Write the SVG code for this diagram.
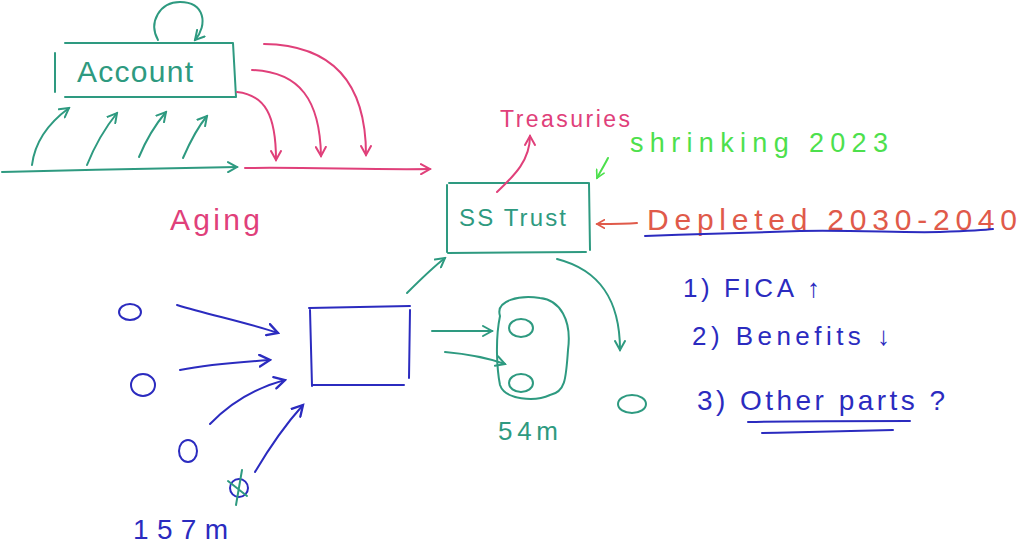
<svg xmlns="http://www.w3.org/2000/svg" width="1019" height="548" viewBox="0 0 1019 548">
<defs>
<style>
.t{font-family:"Liberation Sans",Arial,sans-serif;}
.ln{fill:none;stroke-width:2;stroke-linecap:round;stroke-linejoin:round;}
.teal{stroke:#2e9a80;} .pink{stroke:#e0407a;} .blue{stroke:#2b2bbf;} .green{stroke:#4de04d;} .red{stroke:#e05a4a;}
</style>
<marker id="aT" viewBox="0 0 12 12" refX="10" refY="6" markerWidth="12" markerHeight="12" markerUnits="userSpaceOnUse" orient="auto"><path d="M1,1 L10,6 L1,11" fill="none" stroke="#2e9a80" stroke-width="2" stroke-linecap="round"/></marker>
<marker id="aP" viewBox="0 0 12 12" refX="10" refY="6" markerWidth="12" markerHeight="12" markerUnits="userSpaceOnUse" orient="auto"><path d="M1,1 L10,6 L1,11" fill="none" stroke="#e0407a" stroke-width="2" stroke-linecap="round"/></marker>
<marker id="aB" viewBox="0 0 12 12" refX="10" refY="6" markerWidth="14" markerHeight="14" markerUnits="userSpaceOnUse" orient="auto"><path d="M1,1 L10,6 L1,11" fill="none" stroke="#2b2bbf" stroke-width="2" stroke-linecap="round"/></marker>
<marker id="aG" viewBox="0 0 12 12" refX="10" refY="6" markerWidth="10" markerHeight="10" markerUnits="userSpaceOnUse" orient="auto"><path d="M1,1 L10,6 L1,11" fill="none" stroke="#4de04d" stroke-width="2" stroke-linecap="round"/></marker>
<marker id="aR" viewBox="0 0 12 12" refX="10" refY="6" markerWidth="10" markerHeight="10" markerUnits="userSpaceOnUse" orient="auto"><path d="M1,1 L10,6 L1,11" fill="none" stroke="#e05a4a" stroke-width="2" stroke-linecap="round"/></marker>
</defs>
<rect width="1019" height="548" fill="#ffffff"/>

<g id="account">
<path class="ln teal" d="M65,43 L233,43 M55,53 L55,92 M65,97 L236,97 M233,43 L236,97"/>
<text class="t" x="77" y="82" font-size="30" fill="#2e9a80" textLength="116" lengthAdjust="spacing">Account</text>
</g>
<g id="aging">
<text class="t" x="170" y="230" font-size="30" fill="#e0407a" textLength="90" lengthAdjust="spacing">Aging</text>
</g>
<g id="ss-trust">
<path class="ln teal" d="M447,185 L447,252 M449,183 L588,183 M589,183 L590,250 M448,253 L586,252"/>
<text class="t" x="459" y="226" font-size="24" fill="#2e9a80" textLength="107" lengthAdjust="spacing">SS Trust</text>
</g>
<g id="treasuries">
<text class="t" x="500" y="127" font-size="23" fill="#e0407a" textLength="130" lengthAdjust="spacing">Treasuries</text>
</g>
<g id="shrinking">
<text class="t" x="630" y="152" font-size="27" fill="#4de04d" textLength="258" lengthAdjust="spacing">shrinking 2023</text>
</g>
<g id="depleted">
<text class="t" x="647" y="230" font-size="30" fill="#e05a4a" textLength="370" lengthAdjust="spacing">Depleted 2030-2040</text>
<path class="ln blue" d="M645,236 C700,234 760,232 800,231 C860,230 900,233 940,232 C965,231 985,230 993,229"/>
</g>
<g id="inputs-box">
<path class="ln blue" stroke-width="2.5" d="M310,310 L312,386 M309,308 L410,306 M410,310 L409,378 M313,385 L404,385"/>
</g>
<g id="people-left">
<ellipse class="ln blue" cx="130" cy="312" rx="11" ry="8"/>
<ellipse class="ln blue" cx="143" cy="385" rx="12" ry="11"/>
<ellipse class="ln blue" cx="188" cy="451" rx="9" ry="11"/>
<ellipse class="ln blue" cx="239" cy="488" rx="9" ry="9"/>
<path class="ln teal" d="M228,481 L247,496 M242,470 L236,505"/>
<text class="t" x="133" y="539" font-size="28" fill="#2b2bbf" textLength="95" lengthAdjust="spacing">157m</text>
</g>
<g id="people-right">
<path class="ln teal" stroke-width="1.2" d="M500,316 C495,300 520,295 540,298 C560,300 572,320 568,350 C566,380 565,392 550,395 C535,402 505,400 500,385 C497,370 495,340 500,316 Z"/>
<ellipse class="ln teal" cx="521" cy="328" rx="12" ry="9"/>
<ellipse class="ln teal" cx="521" cy="383" rx="12" ry="9"/>
<text class="t" x="498" y="440" font-size="26" fill="#2e9a80" textLength="60" lengthAdjust="spacing">54m</text>
<ellipse class="ln teal" cx="632" cy="404" rx="14" ry="9"/>
</g>
<g id="list">
<text class="t" x="683" y="297" font-size="26" fill="#2b2bbf" textLength="137" lengthAdjust="spacing">1) FICA ↑</text>
<text class="t" x="692" y="345" font-size="26" fill="#2b2bbf" textLength="198" lengthAdjust="spacing">2) Benefits ↓</text>
<text class="t" x="697" y="410" font-size="28" fill="#2b2bbf" textLength="248" lengthAdjust="spacing">3) Other parts ?</text>
<path class="ln blue" d="M748,422 C800,421 860,421 910,421 M762,433 C810,432 860,431 893,430"/>
</g>

<g id="connectors">
<path class="ln teal" d="M158,40 C148,22 160,2 180,2 C205,2 208,25 195,40" marker-end="url(#aT)"/>
<path class="ln teal" d="M32,165 C35,140 50,122 69,108" marker-end="url(#aT)"/>
<path class="ln teal" d="M87,165 C95,145 105,128 117,113" marker-end="url(#aT)"/>
<path class="ln teal" d="M139,157 C146,140 155,125 166,112" marker-end="url(#aT)"/>
<path class="ln teal" d="M183,158 C190,142 197,128 207,116" marker-end="url(#aT)"/>
<path class="ln teal" d="M2,172 C80,170 160,168 237,167" marker-end="url(#aT)"/>
<path class="ln pink" d="M245,168 C310,167 370,170 430,169" marker-end="url(#aP)"/>
<path class="ln pink" d="M237,92 C265,95 276,115 276,160" marker-end="url(#aP)"/>
<path class="ln pink" d="M252,70 C300,72 320,100 321,156" marker-end="url(#aP)"/>
<path class="ln pink" d="M264,44 C330,45 366,80 366,155" marker-end="url(#aP)"/>
<path class="ln pink" d="M497,192 C515,175 530,160 530,136" marker-end="url(#aP)"/>
<path class="ln green" d="M608,158 C604,166 600,172 597,178" marker-end="url(#aG)"/>
<path class="ln red" d="M637,223 C625,224 610,224 597,224" marker-end="url(#aR)"/>
<path class="ln teal" d="M407,293 C420,280 432,268 445,258" marker-end="url(#aT)"/>
<path class="ln teal" d="M557,259 C600,270 620,300 620,350" marker-end="url(#aT)"/>
<path class="ln blue" d="M177,305 C210,315 245,322 278,333" marker-end="url(#aB)"/>
<path class="ln blue" d="M180,370 C210,364 240,362 270,360" marker-end="url(#aB)"/>
<path class="ln blue" d="M210,424 C230,403 255,388 285,380" marker-end="url(#aB)"/>
<path class="ln blue" d="M255,472 C268,450 285,425 303,405" marker-end="url(#aB)"/>
<path class="ln teal" d="M432,331 C455,331 475,331 492,331" marker-end="url(#aT)"/>
<path class="ln teal" d="M445,352 C468,354 488,358 505,364" marker-end="url(#aT)"/>
</g>
</svg>
